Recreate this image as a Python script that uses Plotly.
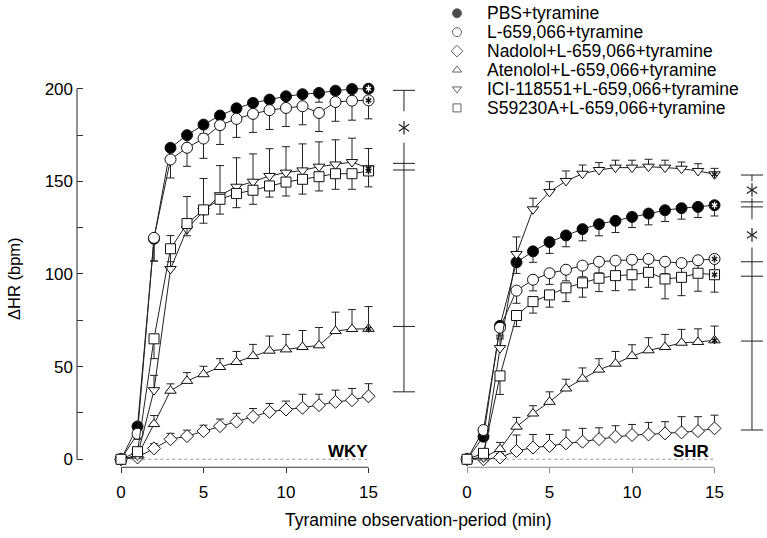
import plotly.graph_objects as go

W, H = 767, 538

# ---------------- data ----------------
minutes = list(range(16))
series_names = ["PBS+tyramine", "L-659,066+tyramine", "Nadolol+L-659,066+tyramine",
                "Atenolol+L-659,066+tyramine", "ICI-118551+L-659,066+tyramine",
                "S59230A+L-659,066+tyramine"]

# WKY
wky_pbs = [0, 17.7, 119, 168.1, 174.9, 180.6, 185.5, 189.4, 192.3, 194.1, 195.9, 197.0, 197.7, 198.9, 199.8, 200.0]
wky_pbs_err = [0, 3, 12, 5, 5, 5, 5, 5, 5, 5, 5, 5, 5, 5, 5, 5]
wky_l659 = [0, 13.8, 119.5, 161.8, 168.1, 173.1, 180.3, 183.7, 186.4, 188.4, 189.6, 190.5, 186.9, 192.8, 193.5, 193.7]
wky_l659_err = [0, 3, 12.5, 10, 10, 10.7, 10.4, 10, 10, 10.4, 10, 10, 10, 10.4, 10.5, 10]
wky_nad = [0, 1, 5.9, 10.8, 12.5, 15.2, 17.9, 20.3, 22.9, 25.6, 26.9, 27.8, 29.2, 31.0, 31.9, 34.0]
wky_nad_err = [0, 1, 2.5, 3.2, 3.2, 3.2, 3.8, 4.5, 4.5, 4.5, 4.5, 7.3, 5.9, 6.3, 6.3, 6.8]
wky_ate = [0, 2, 19, 37.0, 42.3, 45.9, 49.8, 52.5, 55.7, 58.6, 59.3, 60.6, 61.5, 69.2, 70.3, 70.4]
wky_ate_err = [0, 1, 4.6, 3.7, 4.5, 4.3, 4.5, 5.7, 6.3, 7.9, 8.1, 8.9, 9.6, 10.2, 10.5, 12.0]
wky_ici = [0, 2, 37.3, 102.7, 124.2, 134.0, 142.5, 147.1, 149.8, 152.9, 154.7, 155.9, 157.9, 159.1, 160.4, 157.0]
wky_ici_err = [0, 1, 8, 18, 17.6, 17.5, 16, 15.6, 15, 14.7, 14, 14.3, 13.4, 13.3, 12.9, 10.7]
wky_s59 = [0, 4.1, 65, 113.6, 127.2, 134.6, 140.3, 143.4, 145.2, 147.5, 149.6, 151.1, 152.5, 154.1, 154.1, 155.6]
wky_s59_err = [0, 2, 10.7, 7, 6.6, 7.2, 8, 7.6, 7.6, 6, 7.5, 8, 7.7, 8.4, 8.4, 8.6]

# SHR
shr_pbs = [0, 12.2, 72, 106.3, 112.2, 117.2, 120.8, 124.2, 126.9, 128.7, 130.8, 132.6, 134.4, 135.5, 136.2, 137.1]
shr_pbs_err = [0, 2, 5, 6, 5.9, 6.1, 6.1, 6.3, 6.3, 6.3, 5.7, 6.1, 6.1, 5.9, 5.7, 5.8]
shr_l659 = [0, 15.8, 71, 91, 96.9, 100.4, 102.3, 104.5, 106.6, 107.2, 107.7, 108.1, 106.6, 105.9, 107.4, 108.1]
shr_l659_err = [0, 3, 5, 6.8, 6, 6, 6, 6, 6, 6, 6, 6, 6.5, 6.5, 6, 6]
shr_nad = [0, 0, 1, 4.5, 6.3, 7.2, 8.6, 9.5, 10.9, 12.2, 13.1, 13.4, 14.0, 14.5, 15.2, 16.7]
shr_nad_err = [0, 1, 2, 8.6, 7.1, 6.2, 7.2, 7.2, 6.1, 5.9, 5.7, 6.5, 6.3, 8.5, 7.8, 7.1]
shr_ate = [0, 1, 5.5, 17.6, 24.7, 31.0, 38.2, 43.5, 48.4, 51.6, 55.7, 58.8, 60.6, 62.9, 63.3, 64.2]
shr_ate_err = [0, 1, 3.6, 5, 4.2, 5.4, 5, 5.8, 5.9, 6.6, 6.1, 6.8, 6.8, 7.2, 7.1, 7.7]
shr_ici = [0, 1, 60, 110.8, 134.9, 144.3, 150.2, 154.1, 156.1, 157.4, 157.4, 157.9, 157.4, 156.8, 155.6, 153.8]
shr_ici_err = [0, 1, 5, 9.2, 6, 5.5, 5.4, 4.7, 4, 4, 4, 4, 4, 3.6, 3.9, 3.2]
shr_s59 = [0, 3.2, 45, 77.6, 85.1, 88.7, 92.5, 95.2, 97.7, 99.1, 99.6, 100.9, 97.3, 98.2, 100.4, 99.6]
shr_s59_err = [0, 2, 10, 6, 6.2, 6.6, 7.4, 7.7, 7.2, 8.1, 8.2, 8.1, 10.7, 9.9, 9.7, 9.4]

# significance brackets (values on the ΔHR scale)
wky_caps = [199.1, 159.7, 156.1, 71.7, 36.4]
wky_segments = [(199.1, 187.8), (170.8, 36.4)]
wky_stars = [178.9]
shr_caps = [153.4, 138.9, 136.2, 106.6, 98.8, 63.8, 15.8]
shr_segments = [(153.4, 150.0), (141.0, 129.5), (114.3, 15.8)]
shr_stars = [145.3, 121.1]

x_ticks = [0, 5, 10, 15]
y_ticks = [0, 25, 50, 75, 100, 125, 150, 175, 200]
y_ticklabels = ["0", "", "50", "", "100", "", "150", "", "200"]

# ---------------- styling ----------------
symbols = ["circle", "circle", "diamond", "triangle-up", "triangle-down", "square"]
sizes = [11, 11, 10, 10, 10, 10]
fills = ["black", "white", "white", "white", "white", "white"]
err_dir = ["down", "down", "up", "up", "up", "down"]
star_col = ["white", "#111", None, "#111", "#111", "#111"]
FONT = "Liberation Sans, Arial, sans-serif"
INK = "#111"


def px_x(p):
    return p / W


def px_y(p):
    return 1 - p / H


fig = go.Figure()

panels = [
    ("x", "y", [wky_pbs, wky_l659, wky_nad, wky_ate, wky_ici, wky_s59],
     [wky_pbs_err, wky_l659_err, wky_nad_err, wky_ate_err, wky_ici_err, wky_s59_err]),
    ("x2", "y2", [shr_pbs, shr_l659, shr_nad, shr_ate, shr_ici, shr_s59],
     [shr_pbs_err, shr_l659_err, shr_nad_err, shr_ate_err, shr_ici_err, shr_s59_err]),
]

for xa, ya, vals, errs in panels:
    for i, (v, e) in enumerate(zip(vals, errs)):
        zeros = [0] * len(e)
        up, down = (e, zeros) if err_dir[i] == "up" else (zeros, e)
        fig.add_trace(go.Scatter(
            x=minutes, y=v, mode="lines+markers", xaxis=xa, yaxis=ya,
            name=series_names[i], showlegend=False,
            line=dict(color="#222", width=1),
            marker=dict(symbol=symbols[i], size=sizes[i], color=fills[i],
                        line=dict(color=INK, width=1)),
            error_y=dict(type="data", symmetric=False, array=up, arrayminus=down,
                         color="#222", thickness=1, width=4),
            cliponaxis=False,
        ))
    # asterisks inside the final markers
    for i, v in enumerate(vals):
        if star_col[i] is None:
            continue
        for sym in ("y-up-open", "y-down-open"):
            fig.add_trace(go.Scatter(
                x=[minutes[-1]], y=[v[-1]], mode="markers", xaxis=xa, yaxis=ya,
                showlegend=False, hoverinfo="skip",
                marker=dict(symbol=sym, size=4.5, color=star_col[i],
                            line=dict(color=star_col[i], width=1.4)),
                cliponaxis=False,
            ))

shapes = []
# axis lines
shapes.append(dict(type="line", xref="x domain", yref="y", x0=0, x1=0, y0=0, y1=200,
                   line=dict(color="#222", width=1)))
shapes.append(dict(type="line", xref="x", yref="y domain", x0=0, x1=15, y0=0, y1=0,
                   line=dict(color="#333", width=1)))
shapes.append(dict(type="line", xref="x2", yref="y2 domain", x0=0, x1=15, y0=0, y1=0,
                   line=dict(color="#888", width=1)))
# dotted zero lines
for xr, yr in (("x", "y"), ("x2", "y2")):
    shapes.append(dict(type="line", xref=xr, yref=yr, x0=0.2, x1=15, y0=0, y1=0,
                       line=dict(color="#999", width=1, dash="dot")))


# brackets
def add_bracket(xr, yr, xc, caps, segs, stars):
    hw = 0.67
    for c in caps:
        shapes.append(dict(type="line", xref=xr, yref=yr, x0=xc - hw, x1=xc + hw, y0=c, y1=c,
                           line=dict(color="#222", width=1)))
    for a, b in segs:
        shapes.append(dict(type="line", xref=xr, yref=yr, x0=xc, x1=xc, y0=a, y1=b,
                           line=dict(color="#222", width=1)))
    for sym in ("y-up-open", "y-down-open"):
        fig.add_trace(go.Scatter(
            x=[xc] * len(stars), y=stars, mode="markers", xaxis=xr, yaxis=yr,
            showlegend=False, hoverinfo="skip",
            marker=dict(symbol=sym, size=8.5, color="#222", line=dict(color="#222", width=1.2)),
            cliponaxis=False,
        ))


add_bracket("x", "y", 17.15, wky_caps, wky_segments, wky_stars)
add_bracket("x2", "y2", 17.27, shr_caps, shr_segments, shr_stars)

# custom legend (overlay axis in page-pixel coordinates)
leg_x_sym, leg_x_txt, leg_y0, leg_dy = 457, 485, 13.3, 19.0
fig.add_trace(go.Scatter(
    x=[leg_x_sym] * len(series_names),
    y=[leg_y0 + leg_dy * i for i in range(len(series_names))],
    mode="markers", xaxis="x3", yaxis="y3", showlegend=False, hoverinfo="skip",
    marker=dict(symbol=symbols, size=[9, 9, 9, 8, 8, 8], color=fills,
                line=dict(color="#222", width=1)),
    cliponaxis=False,
))

annotations = []
for i, nm in enumerate(series_names):
    annotations.append(dict(xref="x3", yref="y3", x=leg_x_txt, y=leg_y0 + leg_dy * i,
                            text=nm, showarrow=False, xanchor="left", yanchor="middle",
                            font=dict(family=FONT, size=17.5, color="black")))

annotations.append(dict(xref="paper", yref="paper", x=px_x(14), y=px_y(280), text="ΔHR (bpm)",
                        textangle=-90, showarrow=False, xanchor="center", yanchor="middle",
                        font=dict(family=FONT, size=16.5, color="black")))
annotations.append(dict(xref="paper", yref="paper", x=px_x(418), y=px_y(522),
                        text="Tyramine observation-period (min)", showarrow=False,
                        xanchor="center", yanchor="middle",
                        font=dict(family=FONT, size=17.5, color="black")))
annotations.append(dict(xref="x", yref="y", x=15.1, y=4.2, text="<b>WKY</b>", showarrow=False,
                        xanchor="right", yanchor="middle",
                        font=dict(family=FONT, size=17, color="black")))
annotations.append(dict(xref="x2", yref="y2", x=14.8, y=4.2, text="<b>SHR</b>", showarrow=False,
                        xanchor="right", yanchor="middle",
                        font=dict(family=FONT, size=17, color="black")))

ydom = [px_y(469), px_y(50)]
yrange = [-4.3, 220.97]

fig.update_layout(
    width=W, height=H, margin=dict(l=0, r=0, t=0, b=0),
    paper_bgcolor="white", plot_bgcolor="rgba(0,0,0,0)",
    showlegend=False,
    font=dict(family=FONT, size=17, color="black"),
    xaxis=dict(domain=[px_x(77), px_x(430)], range=[-2.667, 18.727], anchor="y",
               tickmode="array", tickvals=x_ticks, ticks="outside", ticklen=5,
               tickcolor="#333", showline=False, showgrid=False, zeroline=False,
               ticklabelstandoff=4, tickfont=dict(family=FONT, size=17)),
    yaxis=dict(domain=ydom, range=yrange, anchor="x", tickmode="array",
               tickvals=y_ticks, ticktext=y_ticklabels, ticks="inside", ticklen=6,
               tickcolor="#333", showline=False, showgrid=False, zeroline=False,
               ticklabelstandoff=3, tickfont=dict(family=FONT, size=17)),
    xaxis2=dict(domain=[px_x(440), 1.0], range=[-1.636, 18.18], anchor="y2",
                tickmode="array", tickvals=x_ticks, ticks="outside", ticklen=5,
                tickcolor="#888", showline=False, showgrid=False, zeroline=False,
                ticklabelstandoff=4, tickfont=dict(family=FONT, size=17)),
    yaxis2=dict(domain=ydom, range=yrange, anchor="x2", visible=False),
    xaxis3=dict(domain=[0, 1], range=[0, W], anchor="y3", visible=False),
    yaxis3=dict(domain=[0, 1], range=[H, 0], anchor="x3", visible=False),
    shapes=shapes,
    annotations=annotations,
)

fig.write_html("out.html", config={"displayModeBar": False},
               post_script="document.body.style.margin='0px';")
